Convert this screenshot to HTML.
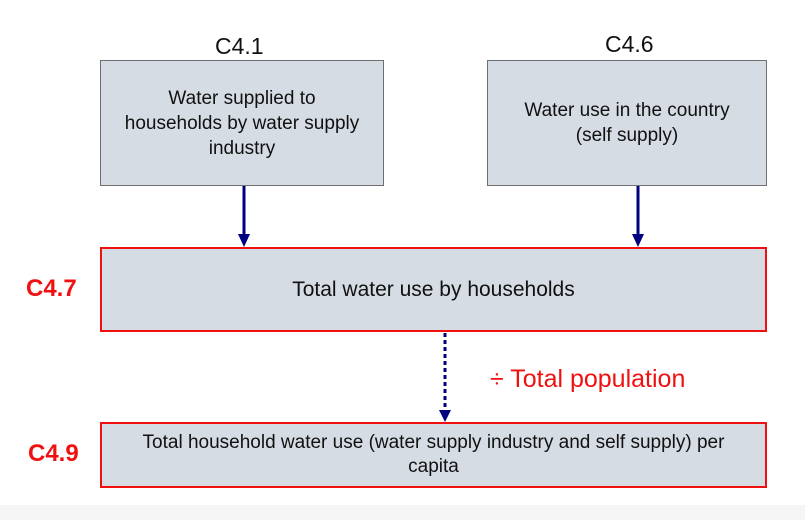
<!DOCTYPE html>
<html><head><meta charset="utf-8"><style>
body{margin:0;width:805px;height:520px;background:#fff;position:relative;overflow:hidden;font-family:"Liberation Sans",Arial,sans-serif}
.b{position:absolute;background:#d6dce4;box-sizing:border-box;display:flex;align-items:center;justify-content:center;text-align:center;color:#111;font-size:19px;line-height:25px}
.g{border:1.5px solid #6f6f6f}
.r{border:2px solid #f01010}
.t{position:absolute;font-size:23px;color:#111}
.c{position:absolute;font-size:24px;font-weight:bold;color:#f01010}
</style></head><body>
<div class="t" style="left:215px;top:33px">C4.1</div>
<div class="t" style="left:605px;top:31px">C4.6</div>
<div class="b g" style="left:100px;top:60px;width:284px;height:126px;padding:0 4px">Water supplied to<br>households by water supply<br>industry</div>
<div class="b g" style="left:487px;top:60px;width:280px;height:126px;padding:0 4px">Water use in the country<br>(self supply)</div>
<div class="b r" style="left:100px;top:247px;width:667px;height:85px;font-size:21px">Total water use by households</div>
<div class="b r" style="left:100px;top:422px;width:667px;height:66px;padding:0 4px;line-height:24px">Total household water use (water supply industry and self supply) per<br>capita</div>
<div class="c" style="left:26px;top:275px">C4.7</div>
<div class="c" style="left:28px;top:440px">C4.9</div>
<div style="position:absolute;left:490px;top:365px;font-size:25px;color:#f01010">÷ Total population</div>
<div style="position:absolute;left:0;top:505px;width:805px;height:15px;background:#f5f5f5"></div>
<svg style="position:absolute;left:0;top:0" width="805" height="520">
<g fill="#000080" stroke="#000080">
<line x1="244" y1="186" x2="244" y2="236" stroke-width="3"/><polygon points="238,234 250,234 244,247" stroke="none"/>
<line x1="638" y1="186" x2="638" y2="236" stroke-width="3"/><polygon points="632,234 644,234 638,247" stroke="none"/>
<line x1="445" y1="333" x2="445" y2="411" stroke-width="3" stroke-dasharray="4,3"/><polygon points="439,410 451,410 445,422" stroke="none"/>
</g></svg>
</body></html>
